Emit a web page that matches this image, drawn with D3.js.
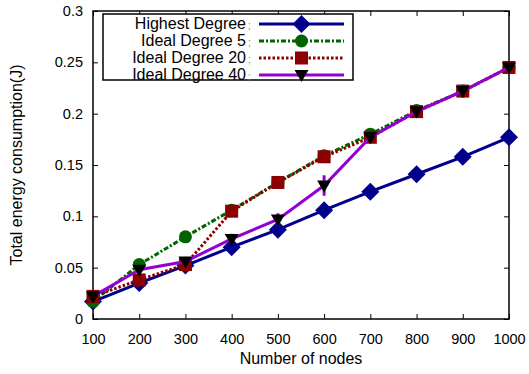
<!DOCTYPE html>
<html>
<head>
<meta charset="utf-8">
<script src="https://cdn.jsdelivr.net/npm/d3@7"></script>
<style>
  body { margin: 0; background: #fff; }
  text { font-family: "Liberation Sans", Arial, sans-serif; }
</style>
</head>
<body>
<div id="plot-area"></div>
<script>
// data
var nodes = [100, 200, 300, 400, 500, 600, 700, 800, 900, 1000]
var highestDegree = [0.017, 0.035, 0.052, 0.070, 0.087, 0.106, 0.124, 0.141, 0.158, 0.177]
var idealDegree5 = [0.017, 0.053, 0.080, 0.106, 0.133, 0.159, 0.180, 0.203, 0.222, 0.245]
var idealDegree20 = [0.022, 0.038, 0.053, 0.105, 0.133, 0.158, 0.177, 0.202, 0.222, 0.245]
var idealDegree40 = [0.022, 0.048, 0.056, 0.078, 0.097, 0.130, 0.177, 0.202, 0.222, 0.245]
var idealDegree40Err = [0.003, 0.003, 0.003, 0.005, 0.006, 0.010, 0.003, 0.002, 0.002, 0.002]
var seriesNames = ["Highest Degree", "Ideal Degree 5", "Ideal Degree 20", "Ideal Degree 40"]
var yTicks = [0, 0.05, 0.1, 0.15, 0.2, 0.25, 0.3]
var yTickLabels = ["0", "0.05", "0.1", "0.15", "0.2", "0.25", "0.3"]

var width = 529
var height = 374
var plotLeft = 93, plotRight = 509, plotTop = 11, plotBottom = 319

var svg = d3.select("#plot-area").append("svg")
    .attr("width", width)
    .attr("height", height)

var xScale = d3.scaleLinear().domain([100, 1000]).range([plotLeft, plotRight])
var yScale = d3.scaleLinear().domain([0, 0.3]).range([plotBottom, plotTop])

// ticks (gnuplot style: inward on all four sides)
var xAxisB = d3.axisBottom(xScale).tickValues(nodes).tickSize(-5).tickPadding(15).tickFormat(d3.format("d"))
var xAxisT = d3.axisTop(xScale).tickValues(nodes).tickSize(-5).tickFormat("")
var yAxisL = d3.axisLeft(yScale).tickValues(yTicks).tickSize(-5).tickPadding(10)
    .tickFormat(function(d, i) { return yTickLabels[i] })
var yAxisR = d3.axisRight(yScale).tickValues(yTicks).tickSize(-5).tickFormat("")

function styleAxis(g) {
    g.select(".domain").remove()
    g.selectAll("line").attr("stroke", "#000").attr("stroke-width", 1)
    g.selectAll("text").attr("font-size", 14.5).attr("fill", "#000")
        .style("font-family", "'Liberation Sans', Arial, sans-serif")
}

svg.append("g").attr("transform", "translate(0," + plotBottom + ")").call(xAxisB).call(styleAxis)
svg.append("g").attr("transform", "translate(0," + plotTop + ")").call(xAxisT).call(styleAxis)
svg.append("g").attr("transform", "translate(" + plotLeft + ",0)").call(yAxisL).call(styleAxis)
svg.append("g").attr("transform", "translate(" + plotRight + ",0)").call(yAxisR).call(styleAxis)

svg.append("rect")
    .attr("x", plotLeft).attr("y", plotTop)
    .attr("width", plotRight - plotLeft).attr("height", plotBottom - plotTop)
    .attr("fill", "none").attr("stroke", "#000").attr("stroke-width", 1.5)

var series = [
    {name: seriesNames[0], values: highestDegree, color: "#00008b", dash: null, marker: "diamond"},
    {name: seriesNames[1], values: idealDegree5, color: "#006400", dash: "5,2,2,2", marker: "circle"},
    {name: seriesNames[2], values: idealDegree20, color: "#8b0000", dash: "2.5,2", marker: "square"},
    {name: seriesNames[3], values: idealDegree40, color: "#9400d3", dash: null, marker: "triangle"}
]

var line = d3.line()
    .x(function(d, i) { return xScale(nodes[i]) })
    .y(function(d) { return yScale(d) })

function drawMarker(g, type, x, y, color) {
    if (type == "diamond") {
        g.append("path").attr("d", "M" + x + "," + (y - 9) + "L" + (x + 9) + "," + y + "L" + x + "," + (y + 9) + "L" + (x - 9) + "," + y + "Z")
            .attr("fill", color)
    } else if (type == "circle") {
        g.append("circle").attr("cx", x).attr("cy", y).attr("r", 6.5).attr("fill", color)
    } else if (type == "square") {
        g.append("rect").attr("x", x - 6.5).attr("y", y - 6.5).attr("width", 13).attr("height", 13).attr("fill", color)
    } else if (type == "triangle") {
        g.append("path").attr("d", "M" + (x - 7) + "," + (y - 5) + "L" + (x + 7) + "," + (y - 5) + "L" + x + "," + (y + 7) + "Z")
            .attr("fill", "#000")
    }
}

series.forEach(function(s) {
    var g = svg.append("g")
    g.append("path")
        .datum(s.values)
        .attr("d", line)
        .attr("fill", "none")
        .attr("stroke", s.color)
        .attr("stroke-width", 3)
        .attr("stroke-dasharray", s.dash)
    if (s.name == "Ideal Degree 40") {
        g.selectAll(".err").data(s.values).enter().append("line")
            .attr("x1", function(d, i) { return xScale(nodes[i]) })
            .attr("x2", function(d, i) { return xScale(nodes[i]) })
            .attr("y1", function(d, i) { return yScale(d - idealDegree40Err[i]) })
            .attr("y2", function(d, i) { return yScale(d + idealDegree40Err[i]) })
            .attr("stroke", s.color).attr("stroke-width", 3)
    }
    s.values.forEach(function(v, i) {
        drawMarker(g, s.marker, xScale(nodes[i]), yScale(v), s.color)
    })
})

// legend
var legend = svg.append("g")
legend.append("rect")
    .attr("x", 103).attr("y", 14).attr("width", 250).attr("height", 66)
    .attr("fill", "#fff").attr("stroke", "#000").attr("stroke-width", 1.5)

series.forEach(function(s, i) {
    var y = 24 + i * 17
    legend.append("text")
        .attr("x", 246).attr("y", y + 5)
        .attr("text-anchor", "end")
        .attr("font-size", 16)
        .text(s.name)
    legend.append("text")
        .attr("x", 248).attr("y", y + 5)
        .attr("font-size", 10).attr("fill", "#888")
        .text(";")
    legend.append("line")
        .attr("x1", 259).attr("x2", 344).attr("y1", y).attr("y2", y)
        .attr("stroke", s.color).attr("stroke-width", 3)
        .attr("stroke-dasharray", s.dash)
    drawMarker(legend, s.marker, 301.5, y, s.color)
})

svg.append("text")
    .attr("transform", "translate(22, 165) rotate(-90)")
    .attr("text-anchor", "middle")
    .attr("font-size", 16)
    .text("Total energy consumption(J)")

svg.append("text")
    .attr("x", 301).attr("y", 364)
    .attr("text-anchor", "middle")
    .attr("font-size", 16)
    .text("Number of nodes")
</script>
</body>
</html>
